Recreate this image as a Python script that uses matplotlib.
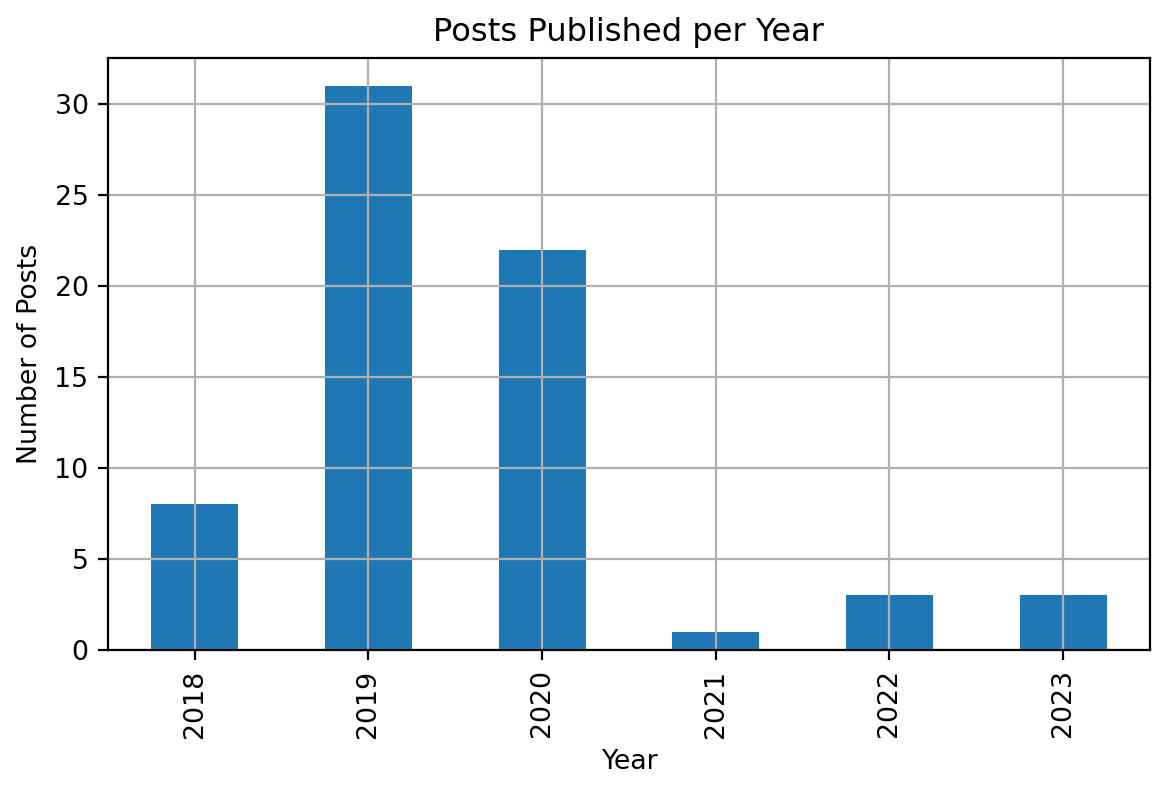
import matplotlib
matplotlib.use("Agg")
import matplotlib.pyplot as plt
import numpy as np

years = ['2018', '2019', '2020', '2021', '2022', '2023']
posts = [8, 31, 22, 1, 3, 3]

plt.rcParams['font.size'] = 9.63
plt.rcParams['lines.linewidth'] = 1.4

fig, ax = plt.subplots(figsize=(5.845, 3.96), dpi=200)
x = np.arange(len(years))
ax.bar(x, posts, width=0.5, color='#1f77b4')
ax.set_xticks(x)
ax.set_xticklabels(years, rotation=90)
ax.set_xlim(-0.5, len(years) - 0.5)
ax.grid(True)
ax.set_title('Posts Published per Year')
ax.set_xlabel('Year')
ax.set_ylabel('Number of Posts')
fig.subplots_adjust(left=0.0924, right=0.9837, top=0.9268, bottom=0.1793)
fig.savefig('out.png', dpi=200)
